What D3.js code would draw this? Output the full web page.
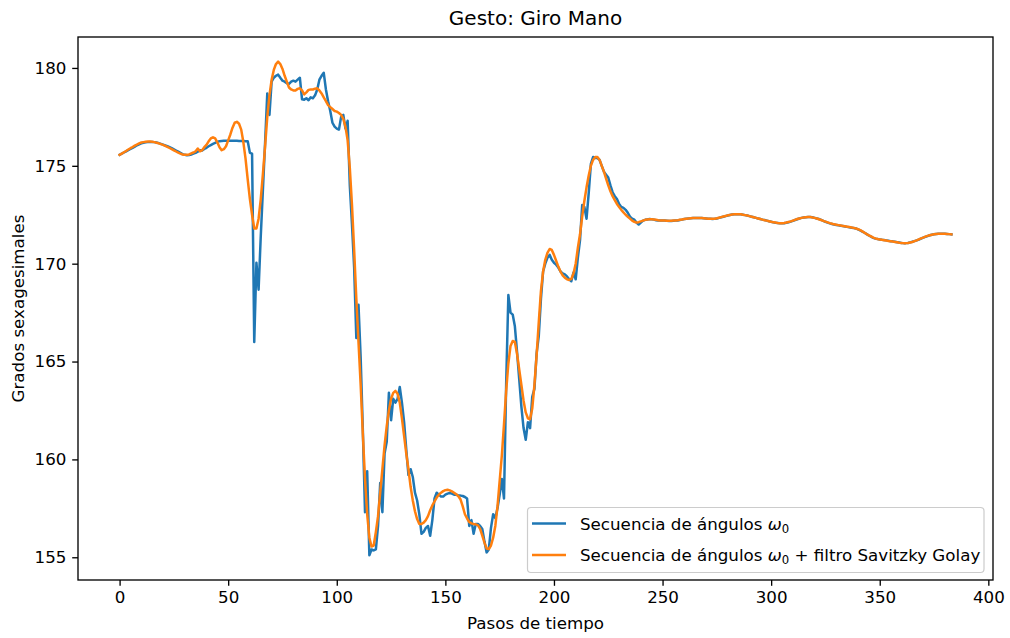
<!DOCTYPE html>
<html><head><meta charset="utf-8">
<script src="https://cdn.jsdelivr.net/npm/d3@7"></script>
<style>body{margin:0;background:#fff} svg{display:block} text{font-family:"DejaVu Sans",sans-serif;fill:#000}</style>
</head><body><svg id="c" width="1010" height="638"></svg>
<script>
const title = "Gesto: Giro Mano";
const xLabel = "Pasos de tiempo";
const yLabel = "Grados sexagesimales";
const xTicks = [0, 50, 100, 150, 200, 250, 300, 350, 400];
const yTicks = [155, 160, 165, 170, 175, 180];
const seriesNames = ["Secuencia de ángulos", "Secuencia de ángulos"];

const raw = [
175.56,175.62,175.68,175.74,175.8,175.86,175.92,175.98,176.05,176.1,
176.15,176.18,176.2,176.21,176.22,176.22,176.21,176.19,176.16,176.12,
176.08,176.04,176.0,175.95,175.9,175.84,175.78,175.72,175.66,175.6,
175.56,175.54,175.55,175.58,175.62,175.66,175.72,175.8,175.78,175.86,
175.92,176.0,176.06,176.12,176.17,176.22,176.26,176.27,176.28,176.28,
176.28,176.28,176.28,176.28,176.28,176.27,176.27,176.27,176.26,176.26,
175.66,175.62,166.0,170.05,168.67,171.4,173.8,176.2,178.7,177.6,
179.3,179.5,179.6,179.66,179.5,179.35,179.3,179.22,179.18,179.3,
179.35,179.3,179.4,179.5,178.4,178.38,178.45,178.35,178.5,178.45,
178.6,178.9,179.4,179.6,179.75,178.9,178.3,177.8,177.2,177.0,
176.9,176.85,177.5,177.6,176.9,177.3,174.0,172.0,169.8,166.2,
167.9,165.2,161.5,157.3,159.4,155.1,155.4,155.35,155.4,156.6,
158.8,157.3,160.3,160.9,163.4,162.0,163.1,162.9,163.1,163.7,
162.9,161.9,160.5,159.2,159.5,159.1,158.3,157.9,157.2,156.2,
156.3,156.5,156.6,156.1,156.9,158.0,158.3,158.2,158.1,158.1,
158.2,158.25,158.28,158.25,158.2,158.2,158.15,158.15,158.13,158.08,
158.0,156.6,156.9,156.2,156.7,156.7,156.6,156.45,155.8,155.25,
155.4,156.5,157.2,157.0,157.5,158.2,159.0,158.0,163.9,168.4,
167.5,167.4,166.8,165.5,164.1,162.7,161.6,161.0,161.9,161.6,
163.2,163.6,165.4,166.3,168.2,169.6,170.0,170.3,170.45,170.2,
170.05,169.95,169.8,169.6,169.5,169.45,169.35,169.2,169.1,169.55,
169.2,170.3,171.2,173.0,172.9,172.3,173.6,175.1,175.45,175.4,
175.4,175.3,175.0,174.7,174.55,174.4,174.0,173.65,173.45,173.3,
173.05,172.9,172.85,172.75,172.6,172.4,172.3,172.25,172.1,172.0,
172.1,172.2,172.24,172.26,172.28,172.27,172.25,172.22,172.2,172.2,
172.2,172.2,172.19,172.18,172.18,172.19,172.2,172.21,172.23,172.25,
172.28,172.3,172.31,172.32,172.33,172.33,172.33,172.33,172.33,172.32,
172.31,172.3,172.29,172.28,172.29,172.31,172.34,172.37,172.4,172.43,
172.46,172.49,172.51,172.53,172.53,172.53,172.52,172.5,172.48,172.46,
172.43,172.4,172.37,172.34,172.31,172.28,172.25,172.23,172.2,172.17,
172.14,172.11,172.09,172.08,172.07,172.07,172.07,172.09,172.12,172.15,
172.19,172.23,172.27,172.31,172.34,172.36,172.37,172.38,172.38,172.37,
172.34,172.31,172.28,172.24,172.19,172.14,172.1,172.06,172.03,172.0,
171.98,171.96,171.94,171.92,171.9,171.88,171.86,171.84,171.82,171.8,
171.75,171.7,171.64,171.58,171.51,171.44,171.38,171.32,171.28,171.26,
171.24,171.22,171.21,171.19,171.17,171.15,171.14,171.12,171.1,171.08,
171.06,171.05,171.05,171.06,171.09,171.12,171.15,171.19,171.23,171.28,
171.33,171.37,171.41,171.45,171.48,171.5,171.52,171.53,171.53,171.53,
171.53,171.52,171.51,171.5
];

const smooth = [
175.56,175.62,175.69,175.76,175.83,175.9,175.96,176.03,176.09,176.15,
176.19,176.21,176.23,176.24,176.24,176.23,176.21,176.18,176.15,176.11,
176.07,176.02,175.97,175.91,175.85,175.79,175.73,175.67,175.62,175.58,
175.56,175.56,175.58,175.63,175.68,175.74,175.88,175.74,175.8,175.95,
176.07,176.25,176.4,176.46,176.4,176.2,175.95,175.8,175.85,176.0,
176.3,176.6,176.95,177.2,177.25,177.15,176.85,176.2,175.35,174.3,
173.3,172.5,171.8,171.8,172.3,173.3,174.6,176.0,177.5,178.6,
179.39,179.9,180.2,180.32,180.2,179.95,179.6,179.3,179.0,178.9,
178.85,178.85,178.93,178.96,178.85,178.65,178.75,178.88,178.9,178.9,
178.94,178.96,178.85,178.7,178.5,178.3,178.1,178.0,177.9,177.8,
177.77,177.7,177.6,177.4,177.0,176.3,174.9,173.0,170.7,168.2,
166.0,163.8,161.3,159.0,157.2,156.0,155.55,155.6,156.3,157.1,
158.3,159.5,160.7,161.7,162.5,163.1,163.4,163.5,163.35,162.9,
162.1,161.2,160.3,159.5,158.6,157.9,157.35,156.95,156.7,156.7,
156.77,156.9,157.1,157.4,157.65,157.85,158.05,158.2,158.3,158.38,
158.43,158.45,158.42,158.37,158.3,158.22,158.12,157.95,157.6,157.2,
156.98,156.8,156.73,156.7,156.68,156.63,156.45,156.1,155.75,155.45,
155.42,155.6,156.0,156.6,157.6,158.9,160.2,161.8,163.5,164.9,
165.8,166.05,166.0,165.4,164.6,163.8,163.0,162.4,162.1,162.05,
162.6,163.8,165.3,167.0,168.6,169.6,170.2,170.55,170.75,170.7,
170.45,170.15,169.85,169.6,169.4,169.28,169.2,169.17,169.22,169.5,
170.0,170.8,171.5,172.4,173.2,173.9,174.5,175.0,175.3,175.45,
175.45,175.3,175.0,174.7,174.35,174.0,173.7,173.45,173.25,173.05,
172.9,172.75,172.62,172.5,172.4,172.3,172.2,172.14,172.1,172.12,
172.16,172.2,172.24,172.26,172.27,172.27,172.26,172.24,172.22,172.21,
172.2,172.2,172.19,172.19,172.19,172.2,172.21,172.22,172.24,172.26,
172.28,172.3,172.31,172.32,172.33,172.33,172.33,172.33,172.33,172.32,
172.31,172.3,172.29,172.29,172.3,172.32,172.35,172.38,172.41,172.44,
172.47,172.49,172.51,172.52,172.53,172.53,172.52,172.5,172.48,172.46,
172.43,172.4,172.37,172.34,172.31,172.28,172.25,172.22,172.2,172.17,
172.14,172.12,172.1,172.08,172.07,172.07,172.08,172.1,172.13,172.16,
172.2,172.24,172.28,172.31,172.34,172.36,172.37,172.38,172.38,172.36,
172.34,172.31,172.27,172.23,172.19,172.15,172.11,172.07,172.04,172.01,
171.99,171.97,171.95,171.93,171.91,171.89,171.87,171.85,171.83,171.8,
171.76,171.71,171.65,171.58,171.51,171.45,171.39,171.33,171.29,171.26,
171.24,171.22,171.2,171.18,171.16,171.15,171.13,171.11,171.09,171.07,
171.06,171.05,171.05,171.06,171.08,171.11,171.15,171.19,171.24,171.29,
171.33,171.38,171.42,171.45,171.48,171.5,171.52,171.53,171.53,171.53,
171.53,171.52,171.51,171.5
];

const L = 78, R = 993, T = 37, B = 580;
const FS = 16.7, LW = 2.5, SW = 1.33, TK = 5.8;
const svg = d3.select("#c");

const n = raw.length - 1;
const x = d3.scaleLinear().domain([-0.05 * n, 1.05 * n]).range([L, R]);
const all = raw.concat(smooth);
const ymin = d3.min(all), ymax = d3.max(all), pad = 0.05 * (ymax - ymin);
const y = d3.scaleLinear().domain([ymin - pad, ymax + pad]).range([B, T]);

const line = d3.line().x((d, i) => x(i)).y(d => y(d));
svg.append("defs").append("clipPath").attr("id", "clip")
  .append("rect").attr("x", L).attr("y", T).attr("width", R - L).attr("height", B - T);

const colors = ["#1f77b4", "#ff7f0e"];
[raw, smooth].forEach((s, i) => {
  svg.append("path").datum(s).attr("d", line).attr("fill", "none")
    .attr("stroke", colors[i]).attr("stroke-width", LW).attr("stroke-linejoin", "round")
    .attr("stroke-linecap", "square").attr("clip-path", "url(#clip)");
});

// axes
const xAxis = d3.axisBottom(x).tickValues(xTicks).tickSize(TK).tickPadding(5.6).tickFormat(d3.format("d"));
const yAxis = d3.axisLeft(y).tickValues(yTicks).tickSize(TK).tickPadding(5.8).tickFormat(d3.format("d"));
const gx = svg.append("g").attr("transform", `translate(0,${B})`).call(xAxis);
const gy = svg.append("g").attr("transform", `translate(${L},0)`).call(yAxis);
[gx, gy].forEach(a => {
  a.select(".domain").remove();
  a.selectAll(".tick line").attr("stroke", "#000").attr("stroke-width", SW);
  a.selectAll(".tick text").attr("font-size", FS + "px").attr("font-family", "DejaVu Sans").attr("fill", "#000");
});

// frame
svg.append("rect").attr("x", L).attr("y", T).attr("width", R - L).attr("height", B - T)
  .attr("fill", "none").attr("stroke", "#000").attr("stroke-width", SW);

// labels
svg.append("text").attr("x", (L + R) / 2).attr("y", 24.5).attr("text-anchor", "middle")
  .attr("font-size", "20px").text(title);
svg.append("text").attr("x", (L + R) / 2).attr("y", 629).attr("text-anchor", "middle")
  .attr("font-size", FS + "px").text(xLabel);
svg.append("text").attr("transform", `translate(24,${(T + B) / 2}) rotate(-90)`).attr("text-anchor", "middle")
  .attr("font-size", FS + "px").text(yLabel);

// legend
const lg = svg.append("g");
lg.append("rect").attr("x", 527.5).attr("y", 507.5).attr("width", 456.5).attr("height", 65).attr("rx", 3.5)
  .attr("fill", "#fff").attr("fill-opacity", 0.8).attr("stroke", "#cccccc").attr("stroke-width", 1.2);
const rowsY = [523.5, 555];
seriesNames.forEach((name, i) => {
  lg.append("line").attr("x1", 532).attr("x2", 566).attr("y1", rowsY[i]).attr("y2", rowsY[i])
    .attr("stroke", colors[i]).attr("stroke-width", LW);
  const t = lg.append("text").attr("x", 580).attr("y", rowsY[i] + 6).attr("font-size", FS + "px");
  t.append("tspan").text(name + " ");
  t.append("tspan").attr("font-style", "italic").text("ω");
  t.append("tspan").attr("font-size", "11.7px").attr("dy", 3).text("0");
  if (i === 1) t.append("tspan").attr("dy", -3).text(" + filtro Savitzky Golay");
});
</script></body></html>
